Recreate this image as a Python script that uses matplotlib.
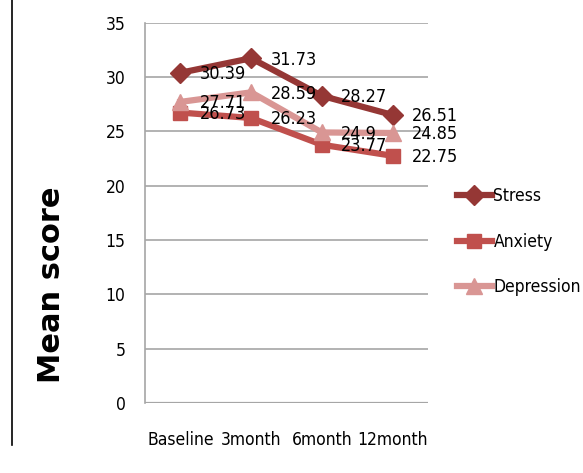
import matplotlib.pyplot as plt
from matplotlib.lines import Line2D
from matplotlib import font_manager

# 시점별 평균 점수
timepoints = ['Baseline', '3month', '6month', '12month']
stress = [30.39, 31.73, 28.27, 26.51]
anxiety = [26.73, 26.23, 23.77, 22.75]
depression = [27.71, 28.59, 24.9, 24.85]
y_ticks = [0, 5, 10, 15, 20, 25, 30, 35]

# 좁은 글꼴이 있으면 사용
fonts = font_manager.fontManager.ttflist
narrow = [f for f in fonts
          if 'Narrow' in f.name or 'Condensed' in f.name
          or str(f.stretch) in ('condensed', 'semi-condensed', '500', '375')]
if narrow:
    plt.rcParams['font.family'] = [narrow[0].name, 'DejaVu Sans']
    plt.rcParams['font.stretch'] = narrow[0].stretch
else:
    plt.rcParams['font.family'] = ['Liberation Sans', 'DejaVu Sans']

fig = plt.figure(figsize=(5.83, 4.73), dpi=100)
ax = fig.add_axes([0.2487, 0.148, 0.4854, 0.804])

series = [
    ('Stress', stress, '#953735', 'D', 10),
    ('Anxiety', anxiety, '#c0504d', 's', 10),
    ('Depression', depression, '#d99694', '^', 11),
]

x = range(len(timepoints))
for label, vals, color, marker, ms in series:
    ax.plot(x, vals, color=color, lw=4.5, marker=marker, ms=ms,
            mec=color, mfc=color, label=label, zorder=3)

# 값 라벨 (점 오른쪽)
for label, vals, color, marker, ms in series:
    for i, v in enumerate(vals):
        ax.annotate(f'{v:g}', (i, v), xytext=(14, -1), textcoords='offset points',
                    ha='left', va='center', fontsize=13, color='black', zorder=4)

ax.set_xlim(-0.5, 3.5)
ax.set_ylim(0, 35)
ax.set_yticks(y_ticks)
ax.set_yticklabels([str(t) for t in y_ticks], fontsize=12.5)
ax.set_xticks(list(x))
ax.set_xticklabels(timepoints, fontsize=12.5)
ax.tick_params(axis='y', length=0, pad=14)
ax.tick_params(axis='x', length=0, pad=20)
ax.grid(axis='y', color='#a6a6a6', lw=1.2)
ax.set_axisbelow(True)
for side in ['top', 'right', 'bottom']:
    ax.spines[side].set_visible(False)
ax.spines['left'].set_color('#a6a6a6')
ax.spines['left'].set_linewidth(1.2)
ax.axhline(0, color='#a6a6a6', lw=1.6, zorder=1)

fig.text(0.088, 0.398, 'Mean score', rotation=90, ha='center', va='center',
         fontsize=22, fontweight='bold', family='DejaVu Sans', fontstretch='normal')

# 왼쪽 세로선
fig.add_artist(Line2D([0.021, 0.021], [0.06, 1.0], color='black', lw=1.2))

fig.legend(loc='upper left', bbox_to_anchor=(0.757, 0.638), frameon=False,
           fontsize=12.5, handlelength=2.0, handletextpad=0.1, labelspacing=1.6)

fig.savefig('out.png', dpi=100)
